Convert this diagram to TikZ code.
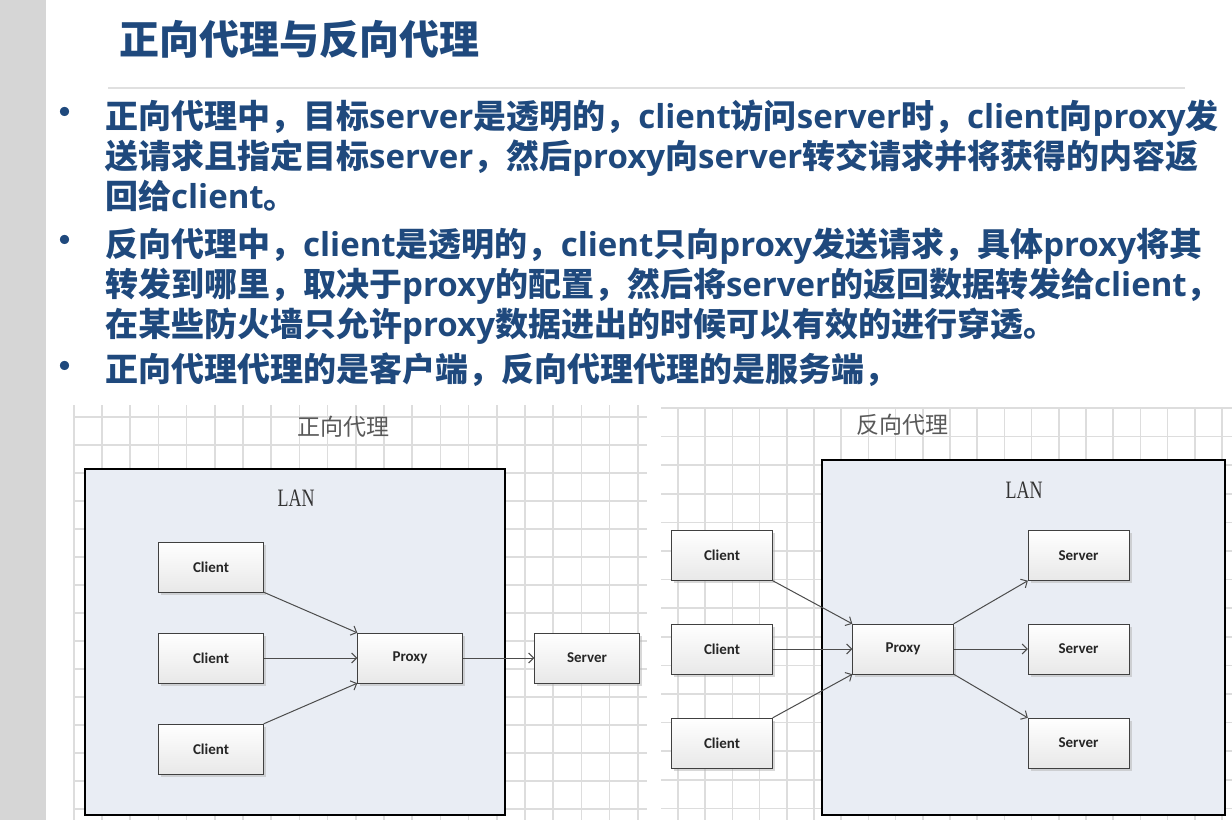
\documentclass[tikz,border=0pt]{standalone}
\usepackage{fontspec}
\setmainfont{Noto Sans CJK SC}
\newfontfamily\entextfont{Open Sans}
\newfontfamily\lanfont[FakeStretch=0.72]{Liberation Serif}
\newfontfamily\boxfont{Carlito}
\newcommand\entext[1]{{\entextfont #1}}
\usepackage{xcolor}
\usetikzlibrary{arrows.meta, positioning, shadows}
\definecolor{titleblue}{RGB}{31,73,125}
\definecolor{lanfill}{RGB}{233,237,244}
\definecolor{gridgray}{RGB}{221,221,221}
\definecolor{sidegray}{RGB}{214,214,214}

\begin{document}
\begin{tikzpicture}[x=1pt,y=-1pt,
  pc/.style={draw=black!75, top color=white, bottom color=black!9, minimum width=105pt, minimum height=50pt,
    font=\boxfont\bfseries\fontsize{15}{15}\selectfont, text=black!85,
    drop shadow={shadow xshift=2.5pt, shadow yshift=-2.5pt, fill=black!30, opacity=0.5}},
  link/.style={-{Straight Barb[length=5pt,width=10pt]}, draw=black!70, line width=1pt},
  lan/.style={draw=black, line width=1.8pt, fill=lanfill},
  gridline/.style={draw=gridgray, line width=1.6pt},
  para/.style={anchor=base west, inner sep=0pt, text=titleblue, font=\bfseries\fontsize{33}{40}\selectfont},
  bul/.style={inner sep=0pt, text=titleblue, font=\bfseries\fontsize{33}{40}\selectfont},
  figtitle/.style={text=black!65, font=\fontsize{23}{23}\selectfont},
  lanlabel/.style={text=black!80, font=\lanfont\fontsize{25}{25}\selectfont}]
\useasboundingbox (0,0) rectangle (1232,820);
\fill[white] (0,0) rectangle (1232,820);
\fill[sidegray] (0,0) rectangle (46,820);

% heading
\node[anchor=base west, inner sep=0pt, text=titleblue, font=\bfseries\fontsize{40}{40}\selectfont] (title) at (119,54) {正向代理与反向代理};
\draw[draw=black!12, line width=2pt] (108,88) -- (1185,88);

% bullets
\node[bul] (b1) at (65,116) {•};
\node[bul] (b2) at (65,244) {•};
\node[bul] (b3) at (65,370) {•};
\node[para] (l1) at (105,128.5) {正向代理中，目标\entext{server}是透明的，\entext{client}访问\entext{server}时，\entext{client}向\entext{proxy}发};
\node[para] (l2) at (105,168.5) {送请求且指定目标\entext{server}，然后\entext{proxy}向\entext{server}转交请求并将获得的内容返};
\node[para] (l3) at (105,208.5) {回给\entext{client}。};
\node[para] (l4) at (105,256.5) {反向代理中，\entext{client}是透明的，\entext{client}只向\entext{proxy}发送请求，具体\entext{proxy}将其};
\node[para] (l5) at (105,296.5) {转发到哪里，取决于\entext{proxy}的配置，然后将\entext{server}的返回数据转发给\entext{client}，};
\node[para] (l6) at (105,336.5) {在某些防火墙只允许\entext{proxy}数据进出的时候可以有效的进行穿透。};
\node[para] (l7) at (105,381.5) {正向代理代理的是客户端，反向代理代理的是服务端，};

% grids
\foreach \i in {0,...,20}
  \draw[gridline] ({73.7+28.2*\i},405) -- ({73.7+28.2*\i},820);
\foreach \j in {0,...,14}
  \draw[gridline] (73.7,{416.7+28*\j}) -- (647,{416.7+28*\j});
\foreach \i in {0,...,20}
  \draw[gridline] ({678+27.2*\i},407) -- ({678+27.2*\i},820);
\foreach \j in {0,...,14}
  \draw[gridline] (661,{408+28.6*\j}) -- (1232,{408+28.6*\j});

% forward proxy
\node[figtitle] (ftitle) at (343,427) {正向代理};
\draw[lan] (85,469) rectangle (505,815);
\node[lanlabel] (flan) at (296,498) {LAN};
\node[pc] (c1) at (211,567) {Client};
\node[pc] (c2) at (211,658) {Client};
\node[pc] (c3) at (211,749) {Client};
\node[pc] (px) at (410,658) {Proxy};
\node[pc] (sv) at (587,658) {Server};
\draw[link] (c1.south east) -- (px.north west);
\draw[link] (c2) -- (px);
\draw[link] (c3.north east) -- (px.south west);
\draw[link] (px) -- (sv);

% reverse proxy
\node[figtitle] (rtitle) at (902,425) {反向代理};
\draw[lan] (822,460) rectangle (1225,815);
\node[lanlabel] (rlan) at (1024,490) {LAN};
\node[pc, minimum width=101pt] (rc1) at (722,555.5) {Client};
\node[pc, minimum width=101pt] (rc2) at (722,649) {Client};
\node[pc, minimum width=101pt] (rc3) at (722,743) {Client};
\node[pc, minimum width=101pt] (rpx) at (903,649) {Proxy};
\node[pc, minimum width=101pt] (rs1) at (1078.5,555.5) {Server};
\node[pc, minimum width=101pt] (rs2) at (1078.5,649) {Server};
\node[pc, minimum width=101pt] (rs3) at (1078.5,743) {Server};
\draw[link] (rc1.south east) -- (rpx.north west);
\draw[link] (rc2) -- (rpx);
\draw[link] (rc3.north east) -- (rpx.south west);
\draw[link] (rpx.north east) -- (rs1.south west);
\draw[link] (rpx) -- (rs2);
\draw[link] (rpx.south east) -- (rs3.north west);
\end{tikzpicture}
\end{document}
